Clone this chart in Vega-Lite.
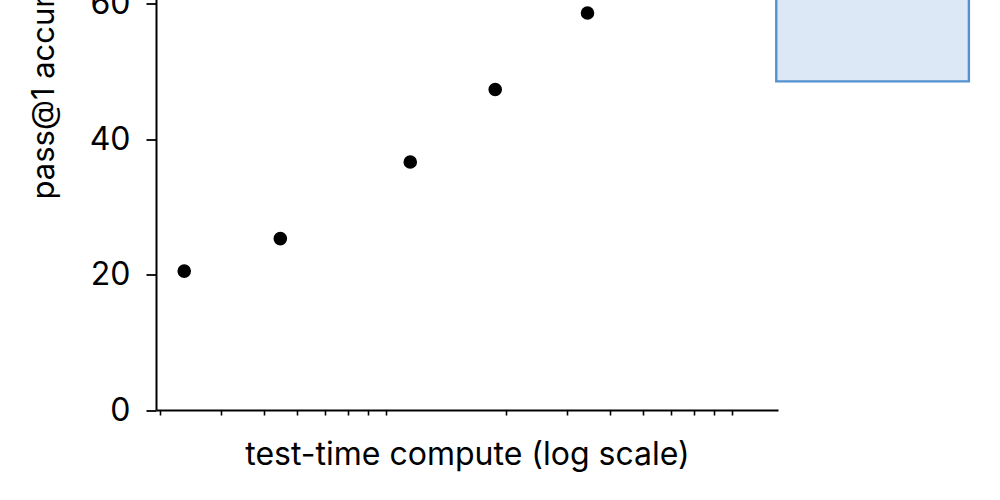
{
  "$schema": "https://vega.github.io/schema/vega-lite/v6.json",
  "autosize": {"type": "none"},
  "padding": {"left": 156, "top": -267.5, "right": 222, "bottom": 90},
  "width": 622,
  "height": 677.5,
  "config": {
    "view": {"stroke": null},
    "font": "Inter",
    "axis": {
      "domainColor": "#000000",
      "domainWidth": 2,
      "tickColor": "#000000",
      "grid": false,
      "labelColor": "#000000",
      "titleColor": "#000000",
      "labelFont": "Inter",
      "titleFont": "Inter",
      "titleFontWeight": "normal"
    }
  },
  "layer": [
    {
      "data": {"values": [{"x1": 121, "x2": 436, "y1": 48.5, "y2": 100}]},
      "mark": {"type": "rect", "fill": "#dde8f6", "stroke": "#5590d0", "strokeWidth": 2.4},
      "encoding": {
        "x": {"field": "x1", "type": "quantitative", "scale": {"type": "log", "domain": [1.95, 122.4], "nice": false}},
        "x2": {"field": "x2"},
        "y": {"field": "y1", "type": "quantitative", "scale": {"domain": [0, 100], "nice": false}},
        "y2": {"field": "y2"}
      }
    },
    {
      "data": {"values": [
        {"compute": 2.353, "accuracy": 20.5},
        {"compute": 4.46, "accuracy": 25.3},
        {"compute": 10.59, "accuracy": 36.6},
        {"compute": 18.64, "accuracy": 47.3},
        {"compute": 34.45, "accuracy": 58.6}
      ]},
      "mark": {"type": "point", "filled": true, "color": "#000000", "opacity": 1, "size": 185},
      "encoding": {
        "x": {
          "field": "compute", "type": "quantitative",
          "scale": {"type": "log", "domain": [1.95, 122.4], "nice": false},
          "axis": {
            "values": [2, 3, 4, 5, 6, 7, 8, 9, 20, 30, 40, 50, 60, 70, 80, 90],
            "labels": false,
            "tickSize": 5,
            "tickWidth": 1.6,
            "title": "test-time compute (log scale)",
            "titleFontSize": 32,
            "titlePadding": 24
          }
        },
        "y": {
          "field": "accuracy", "type": "quantitative",
          "scale": {"domain": [0, 100], "nice": false},
          "axis": {
            "values": [0, 20, 40, 60, 80, 100],
            "tickSize": 10,
            "tickWidth": 1.8,
            "labelFontSize": 32,
            "labelPadding": 16,
            "title": "pass@1 accuracy",
            "titleFontSize": 31,
            "titlePadding": 16
          }
        }
      }
    }
  ]
}
